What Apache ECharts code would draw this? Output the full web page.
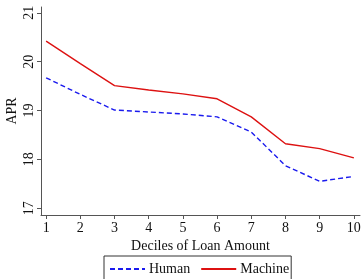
<!DOCTYPE html>
<html>
<head>
<meta charset="utf-8">
<script src="https://cdn.jsdelivr.net/npm/echarts@6/dist/echarts.min.js"></script>
<style>
    html, body { margin: 0; padding: 0; background: #fff; }
</style>
</head>
<body>
<div id="chart" style="width: 363px; height: 279px;"></div>
<script>
    // deciles 1..10
    const deciles = [1, 2, 3, 4, 5, 6, 7, 8, 9, 10]
    const human = [19.67, 19.33, 19.01, 18.97, 18.93, 18.87, 18.56, 17.87, 17.55, 17.65]
    const machine = [20.42, 19.96, 19.51, 19.42, 19.34, 19.24, 18.87, 18.32, 18.22, 18.03]
    const yTicks = [17, 18, 19, 20, 21]

    const font = 'Liberation Serif'
    const axisColor = '#555'

    echarts.init(document.getElementById('chart')).setOption({
        animation: false,
        textStyle: {fontFamily: font},
        grid: {left: 41, right: 3, top: 7, height: 208, outerBoundsMode: 'none', containLabel: false},
        legend: {
            data: ['Human', 'Machine'],
            left: 104,
            top: 256,
            itemWidth: 35,
            itemHeight: 10,
            itemGap: 10,
            padding: [6, 2, 6, 5],
            borderColor: '#333',
            borderWidth: 1,
            itemStyle: {opacity: 0},
            textStyle: {fontFamily: font, fontSize: 14, color: '#111', padding: [0, 0, 0, -1]}
        },
        xAxis: {
            type: 'value',
            min: 0.85,
            max: 10.18,
            name: 'Deciles of Loan Amount',
            nameLocation: 'middle',
            nameGap: 24,
            nameMoveOverlap: false,
            nameTextStyle: {fontFamily: font, fontSize: 14, color: '#111'},
            splitLine: {show: false},
            axisLine: {lineStyle: {color: axisColor}},
            axisTick: {length: 4, lineStyle: {color: axisColor}, customValues: deciles},
            axisLabel: {customValues: deciles, fontFamily: font, fontSize: 14, color: '#111', margin: 6}
        },
        yAxis: {
            type: 'value',
            min: 16.86,
            max: 21.12,
            name: 'APR',
            nameLocation: 'middle',
            nameGap: 22,
            nameMoveOverlap: false,
            nameTextStyle: {fontFamily: font, fontSize: 14, color: '#111'},
            splitLine: {show: false},
            axisLine: {show: true, lineStyle: {color: axisColor}},
            axisTick: {show: true, length: 4, lineStyle: {color: axisColor}, customValues: yTicks},
            axisLabel: {customValues: yTicks, rotate: 90, fontFamily: font, fontSize: 14, color: '#111', margin: 5}
        },
        series: [{
            name: 'Human',
            type: 'line',
            symbol: 'none',
            data: deciles.map((d, i) => [d, human[i]]),
            lineStyle: {color: '#1a1aee', width: 1.4, type: [5, 3]},
            itemStyle: {color: '#1a1aee'}
        }, {
            name: 'Machine',
            type: 'line',
            symbol: 'none',
            data: deciles.map((d, i) => [d, machine[i]]),
            lineStyle: {color: '#dd1111', width: 1.4},
            itemStyle: {color: '#dd1111'}
        }]
    })
</script>
</body>
</html>
